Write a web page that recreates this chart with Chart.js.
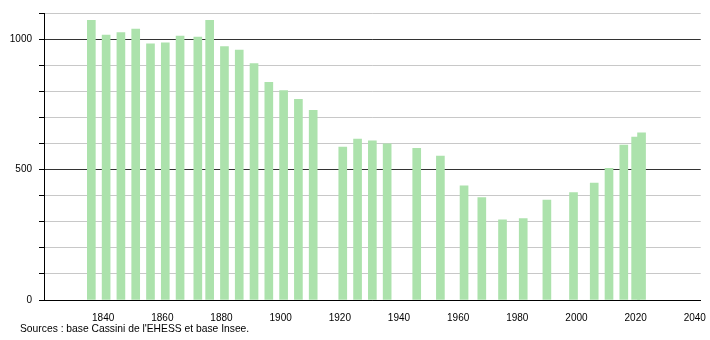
<!DOCTYPE html>
<html>
<head>
<meta charset="utf-8">
<script src="https://cdn.jsdelivr.net/npm/chart.js@4/dist/chart.umd.min.js"></script>
<style>
  html, body { margin: 0; padding: 0; background: #fff; }
  #wrap { position: relative; width: 710px; height: 340px; }
  #src { position: absolute; left: 20px; top: 323px; font: 10.3px "Liberation Sans", Arial, sans-serif; color: #000; white-space: nowrap; }
</style>
</head>
<body>
<div id="wrap">
  <canvas id="c" width="710" height="340"></canvas>
  <div id="src">Sources : base Cassini de l'EHESS et base Insee.</div>
</div>
<script>
const years = [1836, 1841, 1846, 1851, 1856, 1861, 1866, 1872, 1876, 1881, 1886, 1891, 1896, 1901, 1906, 1911,
               1921, 1926, 1931, 1936, 1946, 1954, 1962, 1968, 1975, 1982, 1990, 1999, 2006, 2011, 2016, 2020, 2022];
const population = [1072, 1015, 1025, 1038, 982, 986, 1012, 1008, 1072, 971, 958, 906, 834, 803, 769, 727,
                    586, 617, 610, 599, 581, 552, 438, 393, 307, 312, 383, 412, 448, 505, 594, 624, 641];
const xTickLabels = [1840, 1860, 1880, 1900, 1920, 1940, 1960, 1980, 2000, 2020, 2040];
const yTickLabels = [0, 500, 1000];

const barColor = 'rgb(172,226,172)';
const points = years.map((y, i) => ({ x: y, y: population[i] }));

new Chart(document.getElementById('c'), {
  type: 'bar',
  data: {
    datasets: [{
      data: points,
      backgroundColor: barColor,
      borderWidth: 0,
      barThickness: 8
    }]
  },
  options: {
    responsive: false,
    animation: false,
    events: [],
    layout: { padding: { left: 0, right: 9, top: 11, bottom: 0 } },
    plugins: { legend: { display: false }, tooltip: { enabled: false }, title: { display: false } },
    scales: {
      x: {
        type: 'linear',
        min: 1820,
        max: 2042,
        offset: false,
        grid: { display: false },
        border: { display: true, color: '#000', width: 1 },
        ticks: {
          stepSize: 20,
          includeBounds: false,
          autoSkip: false,
          maxRotation: 0,
          padding: 4,
          color: '#000',
          font: { family: '"Liberation Sans", Arial, sans-serif', size: 10 },
          callback: v => xTickLabels.includes(v) ? String(v) : ''
        },
        afterFit: s => { s.height = 40; }
      },
      y: {
        type: 'linear',
        min: 0,
        max: 1100,
        grid: {
          color: ctx => (ctx.tick && ctx.tick.value % 500 === 0) ? '#333' : '#c8c8c8',
          lineWidth: 1,
          drawTicks: true,
          tickLength: 5,
          tickColor: '#000'
        },
        border: { display: true, color: '#000', width: 1 },
        ticks: {
          stepSize: 100,
          autoSkip: false,
          padding: 7,
          color: '#000',
          font: { family: '"Liberation Sans", Arial, sans-serif', size: 10 },
          callback: v => yTickLabels.includes(v) ? String(v) : ''
        },
        afterFit: s => { s.width = 44; }
      }
    }
  }
});
</script>
</body>
</html>
